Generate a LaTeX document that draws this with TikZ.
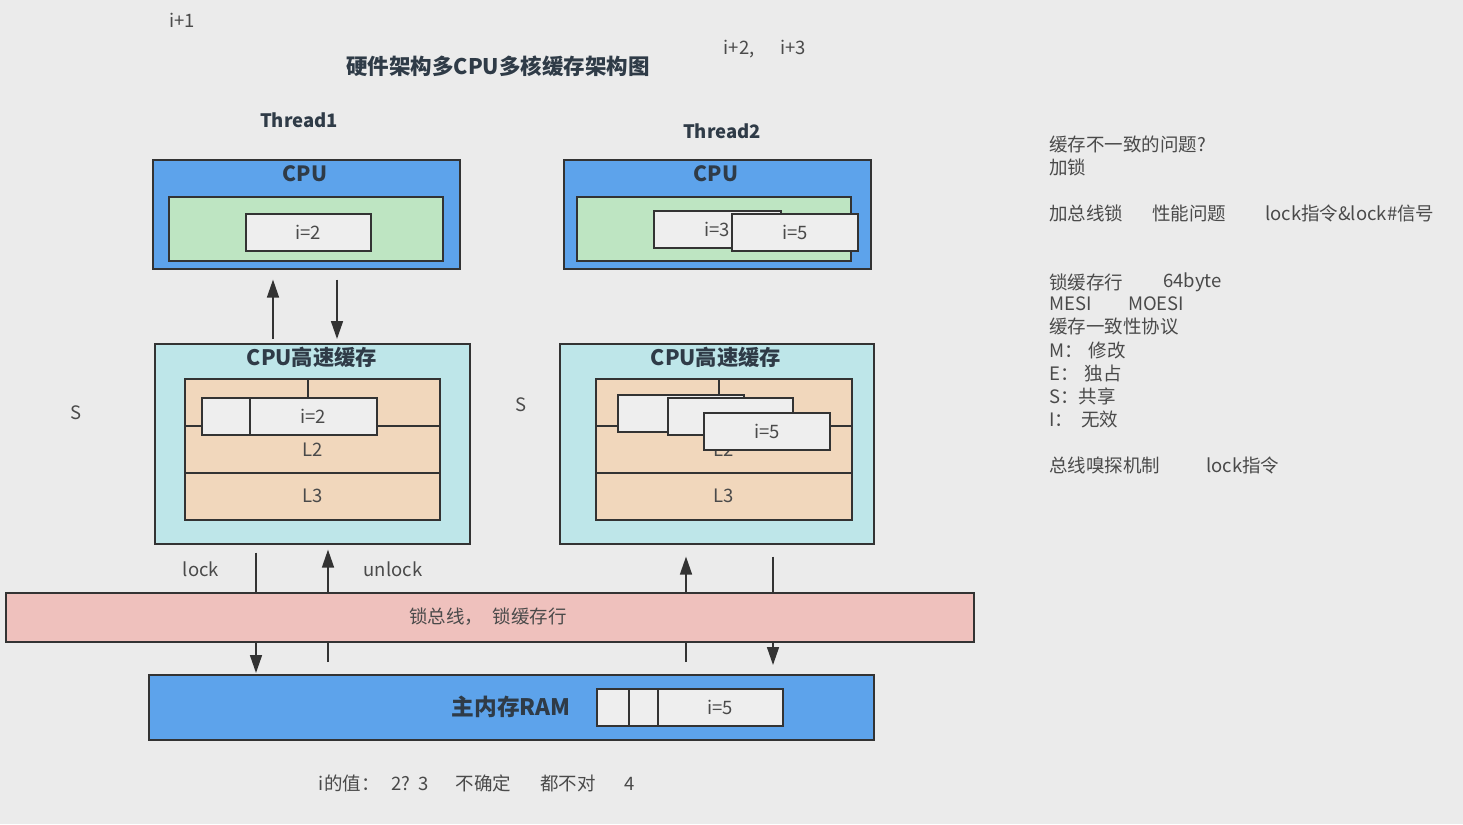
\documentclass[tikz,border=0pt]{standalone}
\usepackage{fontspec}
\setmainfont{Noto Sans CJK SC}
\usepackage{tikz}
\usetikzlibrary{arrows.meta,positioning}

\definecolor{pagegray}{HTML}{EBEBEB}
\definecolor{cpublue}{HTML}{5DA3EB}
\definecolor{regreen}{HTML}{BEE5C2}
\definecolor{cachecyan}{HTML}{BEE6E9}
\definecolor{lvorange}{HTML}{F1D7BC}
\definecolor{buspink}{HTML}{EFC1BD}
\definecolor{cellwhite}{HTML}{EEEEEE}
\definecolor{edge}{HTML}{333333}
\definecolor{ink}{HTML}{4A4A4A}
\definecolor{headink}{HTML}{2F3B47}

\begin{document}
\begin{tikzpicture}[
  x=1pt, y=-1pt,
  every node/.style={font=\fontsize{18.5}{22}\selectfont, text=ink},
  blk/.style={draw=edge, line width=1.6pt, rectangle, anchor=north west, inner sep=0pt},
  cpubox/.style={blk, fill=cpublue, minimum width=307pt, minimum height=109pt},
  regbox/.style={blk, fill=regreen, minimum width=274pt, minimum height=64pt},
  cachebox/.style={blk, fill=cachecyan, minimum height=200pt},
  lvbox/.style={blk, fill=lvorange, minimum height=47pt},
  cell/.style={blk, fill=cellwhite, minimum height=37pt},
  busbox/.style={blk, fill=buspink, minimum width=968pt, minimum height=49pt},
  rambox/.style={blk, fill=cpublue, minimum width=725pt, minimum height=65pt},
  head/.style={font=\fontsize{21}{24}\selectfont\bfseries, text=headink},
  note/.style={anchor=west, inner sep=0pt},
  wire/.style={draw=edge, line width=1.6pt},
  flow/.style={wire, -{Triangle[length=18pt,width=12pt]}}
]
\fill[pagegray] (0,0) rectangle (1463,824);
\useasboundingbox (0,0) rectangle (1463,824);

% headings
\node (iplus1) at (182,20) {i+1};
\node (iplus23) at (765,49) {i+2,\hspace{26pt}i+3};
\node[head, font=\fontsize{21.5}{24}\selectfont\bfseries] (title) at (498,66) {硬件架构多CPU多核缓存架构图};
\node[head, font=\fontsize{18.5}{22}\selectfont\bfseries] (threadA) at (299,120) {Thread1};
\node[head, font=\fontsize{18.5}{22}\selectfont\bfseries] (threadB) at (722,131) {Thread2};

% left core
\node[cpubox] (cpuA) at (152,159) {};
\node[head] (cpuAlbl) at (305,174) {CPU};
\node[regbox] (regA) at (168,196) {};
\node[cell, minimum width=125pt] (regAval) at (245,213) {i=2};
\node[cachebox, minimum width=315pt] (cacheA) at (154,343) {};
\node[head, font=\fontsize{21.3}{24}\selectfont\bfseries] (cacheAlbl) at (312,357) {CPU高速缓存};
\node[lvbox, minimum width=123pt] (lvAa) at (184,378) {};
\node[lvbox, minimum width=132pt] (lvAb) at (307,378) {};
\node[lvbox, minimum width=255pt] (lvAl2) at (184,425) {L2};
\node[lvbox, minimum width=255pt] (lvAl3) at (184,472) {L3};
\node[cell, minimum width=48pt] (lineAtag) at (201,397) {};
\node[cell, minimum width=127pt] (lineAval) at (249,397) {i=2};
\node (sA) at (76,413) {S};

% right core
\node[cpubox] (cpuB) at (563,159) {};
\node[head] (cpuBlbl) at (716,174) {CPU};
\node[regbox] (regB) at (576,196) {};
\node[cell, minimum width=127pt] (regBold) at (653,210) {i=3};
\node[cell, minimum width=126pt] (regBval) at (731,213) {i=5};
\node[cachebox, minimum width=314pt] (cacheB) at (559,343) {};
\node[head, font=\fontsize{21.3}{24}\selectfont\bfseries] (cacheBlbl) at (716,357) {CPU高速缓存};
\node[lvbox, minimum width=123pt] (lvBa) at (595,378) {};
\node[lvbox, minimum width=133pt] (lvBb) at (718,378) {};
\node[lvbox, minimum width=256pt] (lvBl2) at (595,425) {L2};
\node[lvbox, minimum width=256pt] (lvBl3) at (595,472) {L3};
\node[cell, minimum width=126pt] (lineBa) at (617,394) {};
\node[cell, minimum width=125pt] (lineBb) at (667,397) {};
\node[cell, minimum width=126pt] (lineBval) at (703,412) {i=5};
\node (sB) at (521,405) {S};

% bus and memory
\node[busbox] (bus) at (5,592) {};
\node (buslbl) at (488,617) {锁总线，\hspace{10pt}锁缓存行};
\node[rambox] (ram) at (148,674) {};
\node[head, font=\fontsize{22.7}{26}\selectfont\bfseries] (ramlbl) at (511,707) {主内存RAM};
\node[cell, minimum width=32pt] (ramA) at (596,688) {};
\node[cell, minimum width=29pt] (ramB) at (628,688) {};
\node[cell, minimum width=125pt] (ramval) at (657,688) {i=5};

\node (lock) at (201,569) {lock};
\node (unlock) at (393,569) {unlock};

% cpu <-> cache
\draw[flow] ([xshift=119pt,yshift=4pt]cacheA.north west) -- ([xshift=121pt,yshift=-10pt]cpuA.south west);
\draw[flow] ([xshift=185pt,yshift=-10pt]cpuA.south west) -- ([xshift=183pt,yshift=4pt]cacheA.north west);

% cache <-> bus <-> ram
\draw[wire] ([xshift=102pt,yshift=-8pt]cacheA.south west) -- ([xshift=251pt]bus.north west);
\draw[flow] ([xshift=251pt]bus.south west) -- ([xshift=108pt,yshift=1pt]ram.north west);
\draw[wire] ([xshift=180pt,yshift=12pt]ram.north west) -- ([xshift=323pt]bus.south west);
\draw[flow] ([xshift=323pt]bus.north west) -- ([xshift=174pt,yshift=-5pt]cacheA.south west);
\draw[wire] ([xshift=538pt,yshift=12pt]ram.north west) -- ([xshift=681pt]bus.south west);
\draw[flow] ([xshift=681pt]bus.north west) -- ([xshift=127pt,yshift=-12pt]cacheB.south west);
\draw[wire] ([xshift=214pt,yshift=-12pt]cacheB.south west) -- ([xshift=768pt]bus.north west);
\draw[flow] ([xshift=768pt]bus.south west) -- ([xshift=625pt,yshift=9pt]ram.north west);

\node (answer) at (477,783) {i的值：\hspace{12pt}2?\hspace{8pt}3\hspace{27pt}不确定\hspace{29pt}都不对\hspace{29pt}4};

% notes
\node[note] (n1) at (1049,144) {缓存不一致的问题?};
\node[note] (n2) at (1049,167) {加锁};
\node[note] (n3) at (1049,213) {加总线锁};
\node[note] (n3b) at (1152,213) {性能问题};
\node[note] (n3c) at (1265,213) {lock指令\&lock\#信号};
\node[note] (n4) at (1049,282) {锁缓存行};
\node[note] (n4b) at (1163,282) {64byte};
\node[note] (n5) at (1049,304) {MESI};
\node[note] (n5b) at (1128,304) {MOESI};
\node[note] (n6) at (1049,327) {缓存一致性协议};
\node[note] (n7) at (1049,350) {M：\hspace{6pt}修改};
\node[note] (n8) at (1049,373) {E：\hspace{6pt}独占};
\node[note] (n9) at (1049,396) {S：共享};
\node[note] (n10) at (1049,419) {I：\hspace{8pt}无效};
\node[note] (n11) at (1049,465) {总线嗅探机制};
\node[note] (n11b) at (1206,465) {lock指令};
\end{tikzpicture}
\end{document}
